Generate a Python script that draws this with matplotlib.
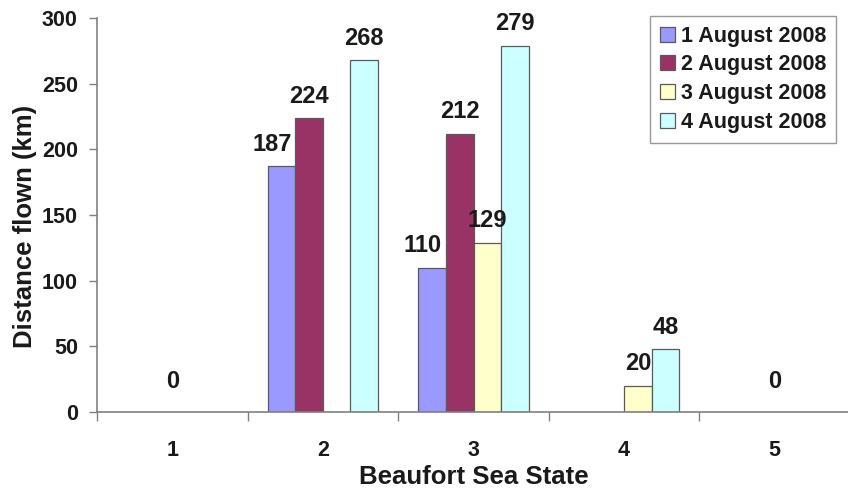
import matplotlib
matplotlib.use("Agg")
import matplotlib.pyplot as plt
import numpy as np

categories = ["1", "2", "3", "4", "5"]
series_names = ["1 August 2008", "2 August 2008", "3 August 2008", "4 August 2008"]
aug1 = [np.nan, 187, 110, np.nan, np.nan]
aug2 = [np.nan, 224, 212, np.nan, np.nan]
aug3 = [np.nan, np.nan, 129, 20, np.nan]
aug4 = [np.nan, 268, 279, 48, np.nan]
zero_labels = [0, None, None, None, 0]
yticks = [0, 50, 100, 150, 200, 250, 300]

colors = ["#9999FF", "#993366", "#FFFFCC", "#CCFFFF"]
series = [aug1, aug2, aug3, aug4]

plt.rcParams['font.family'] = ['Liberation Sans', 'DejaVu Sans']
plt.rcParams['font.weight'] = 'bold'

fig = plt.figure(figsize=(8.48, 4.92), dpi=100)
ax = fig.add_axes([97/848, 1-412/492, 753/848, (412-18)/492])

x = np.arange(len(categories))
w = 0.183
offsets = [-1.5, -0.5, 0.5, 1.5]
label_dx = [-7, 0, 0, 0]
for vals, c, name, off, dx in zip(series, colors, series_names, offsets, label_dx):
    ax.bar(x + off*w, vals, width=w, color=c, edgecolor="#5a5a5a", linewidth=0.9, label=name)
    for xi, v in zip(x, vals):
        if not np.isnan(v):
            ax.annotate(f"{int(v)}", (xi + off*w, v), xytext=(dx, 11), textcoords="offset points",
                        ha="center", va="baseline", fontsize=17, fontweight="bold", color="#1a1a1a")

for xi, z in zip(x, zero_labels):
    if z is not None:
        ax.annotate(f"{z}", (xi, z), xytext=(0, 17), textcoords="offset points",
                    ha="center", va="baseline", fontsize=17, fontweight="bold", color="#1a1a1a")

ax.set_xlim(-0.5, len(categories) - 0.5)
ax.set_ylim(0, 300)
ax.set_yticks(yticks)
ax.set_yticklabels([str(t) for t in yticks])
ax.set_xticks(x)
ax.set_xticklabels(categories)
ax.set_xticks(np.arange(-0.5, len(categories), 1.0), minor=True)
ax.tick_params(axis="x", which="major", length=0, pad=20, labelsize=15.5, labelcolor="#1a1a1a")
ax.tick_params(axis="x", which="minor", length=6.5, width=1, color="#808080", direction="out")
ax.tick_params(axis="y", length=5.8, width=1, color="#808080", pad=8, labelsize=15.5, labelcolor="#1a1a1a")
for lab in ax.get_xticklabels() + ax.get_yticklabels():
    lab.set_fontweight("bold")

for s in ["top", "right"]:
    ax.spines[s].set_visible(False)
for s in ["left", "bottom"]:
    ax.spines[s].set_color("#808080")
    ax.spines[s].set_linewidth(1.2)

fig.text(474/848, 1-477/492, "Beaufort Sea State", ha="center", va="center",
         fontsize=18.5, fontweight="bold", color="#1a1a1a")
fig.text(25/848, 1-226/492, "Distance flown (km)", ha="center", va="center", rotation=90,
         fontsize=18.5, fontweight="bold", color="#1a1a1a")

leg = ax.legend(loc="upper left", bbox_to_anchor=(650/848, 1-16/492), bbox_transform=fig.transFigure,
                fontsize=15.5, frameon=True, fancybox=False, handlelength=0.7, handleheight=0.7,
                handletextpad=0.3, labelspacing=0.36, borderpad=0.45, borderaxespad=0)
leg.get_frame().set_edgecolor("#808080")
leg.get_frame().set_linewidth(1.0)
for t in leg.get_texts():
    t.set_fontweight("bold")
    t.set_color("#1a1a1a")

fig.savefig("out.png", dpi=100)
